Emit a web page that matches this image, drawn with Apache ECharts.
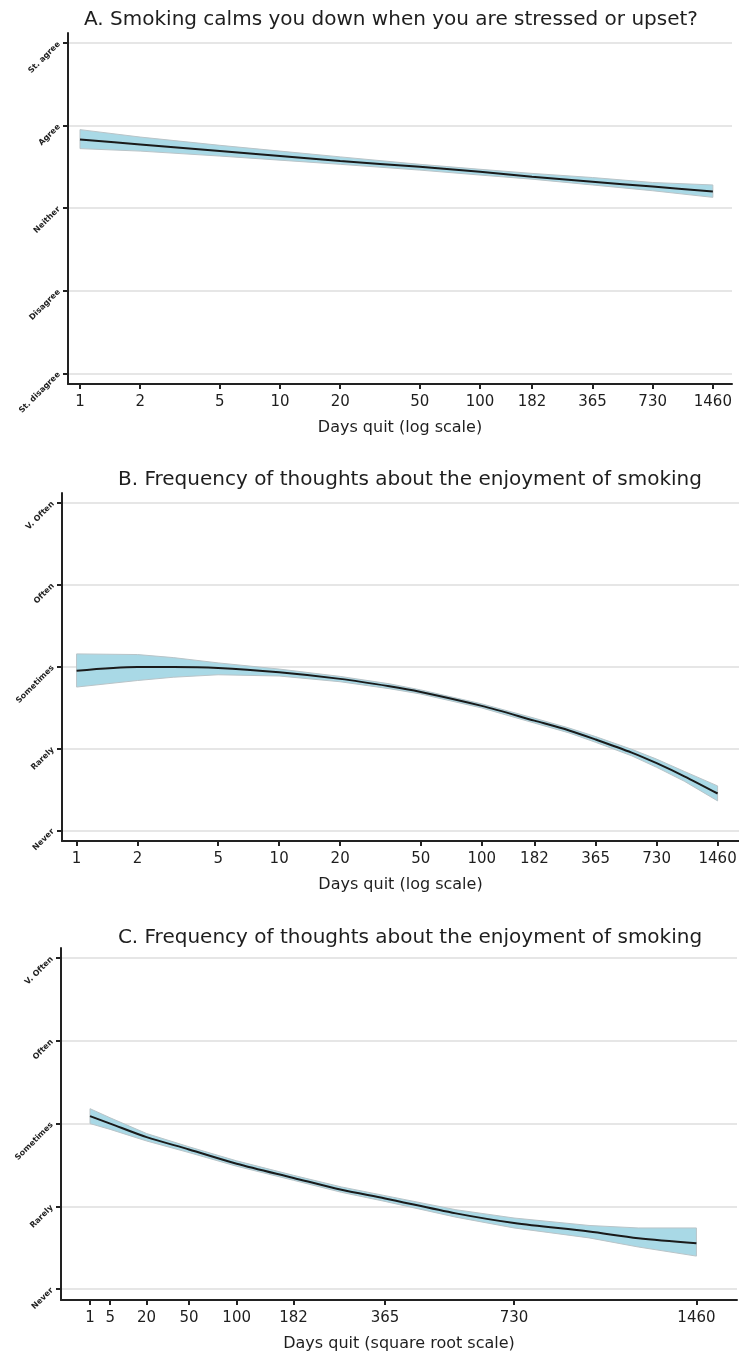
<!DOCTYPE html>
<html><head><meta charset="utf-8">
<script src="https://cdn.jsdelivr.net/npm/echarts@6/dist/echarts.min.js"></script>
<style>html,body{margin:0;padding:0;background:#fff}#c{width:739px;height:1357px}</style>
</head><body><div id="c"></div>
<script>
// ---- text ----
const titleA = "A. Smoking calms you down when you are stressed or upset?";
const titleB = "B. Frequency of thoughts about the enjoyment of smoking";
const titleC = "C. Frequency of thoughts about the enjoyment of smoking";
const xNameLog = "Days quit (log scale)";
const xNameSqrt = "Days quit (square root scale)";
const agreeLabels = ["St. disagree", "Disagree", "Neither", "Agree", "St. agree"];
const freqLabels = ["Never", "Rarely", "Sometimes", "Often", "V. Often"];
const levelValues = [1, 2, 3, 4, 5];
const logTicks = [1, 2, 5, 10, 20, 50, 100, 182, 365, 730, 1460];
const sqrtTicks = [1, 5, 20, 50, 100, 182, 365, 730, 1460];

// ---- panel A ----
const daysA = [1, 2, 5, 10, 20, 50, 100, 182, 365, 730, 1460];
const fitA  = [3.83, 3.77, 3.69, 3.63, 3.57, 3.50, 3.44, 3.38, 3.32, 3.26, 3.20];
const loA   = [3.72, 3.69, 3.63, 3.58, 3.53, 3.46, 3.40, 3.35, 3.28, 3.21, 3.13];
const hiA   = [3.95, 3.86, 3.76, 3.69, 3.62, 3.53, 3.47, 3.42, 3.37, 3.31, 3.28];

// ---- panel B ----
const daysB = [1, 2, 3, 5, 10, 20, 35, 50, 100, 182, 270, 365, 550, 730, 1000, 1460];
const fitB  = [2.95, 2.996, 2.996, 2.984, 2.93, 2.85, 2.76, 2.69, 2.52, 2.34, 2.22, 2.11, 1.95, 1.82, 1.66, 1.45];
const loB   = [2.75, 2.83, 2.87, 2.90, 2.885, 2.815, 2.73, 2.665, 2.495, 2.31, 2.19, 2.075, 1.91, 1.77, 1.60, 1.36];
const hiB   = [3.155, 3.147, 3.11, 3.045, 2.97, 2.88, 2.79, 2.715, 2.545, 2.37, 2.25, 2.145, 1.99, 1.87, 1.72, 1.543];

// ---- panel C ----
const daysC = [1, 5, 20, 50, 100, 182, 270, 365, 550, 730, 1000, 1200, 1460];
const fitC  = [3.09, 3.00, 2.836, 2.688, 2.516, 2.344, 2.20, 2.096, 1.916, 1.80, 1.696, 1.616, 1.556];
const loC   = [3.00, 2.93, 2.79, 2.65, 2.485, 2.315, 2.17, 2.06, 1.87, 1.74, 1.62, 1.51, 1.40];
const hiC   = [3.18, 3.07, 2.88, 2.72, 2.55, 2.375, 2.235, 2.13, 1.96, 1.86, 1.77, 1.74, 1.74];

// ---- styling ----
const FONT = "DejaVu Sans";
const TXT = "#1e1e1e";
const BAND = "#a9d9e6";
const logT = d => Math.log10(d);
const sqrtT = d => Math.sqrt(d);

function yAxis(grid, labels) {
  return {
    type: 'value', gridIndex: grid, min: 0.87, max: 5.12,
    axisLine: { show: true, onZero: false, lineStyle: { color: '#222', width: 2 } },
    axisTick: { show: true, length: 5, customValues: levelValues, lineStyle: { color: '#222', width: 2 } },
    axisLabel: {
      customValues: levelValues, rotate: 45, margin: 9,
      fontFamily: FONT, fontSize: 8, fontWeight: 'bold', color: TXT,
      formatter: v => labels[Math.round(v) - 1]
    },
    splitLine: { show: true, lineStyle: { color: '#e6e6e6', width: 2 } }
  };
}
function xAxis(grid, min, max, ticks, tf, inv, name) {
  const vals = ticks.map(tf);
  return {
    type: 'value', gridIndex: grid, min: min, max: max,
    name: name, nameLocation: 'middle', nameGap: 36,
    nameTextStyle: { fontFamily: FONT, fontSize: 16, color: TXT },
    axisLine: { show: true, onZero: false, lineStyle: { color: '#222', width: 2 } },
    axisTick: { show: true, length: 5, customValues: vals, lineStyle: { color: '#222', width: 2 } },
    axisLabel: {
      customValues: vals, margin: 11, fontFamily: FONT, fontSize: 15, color: TXT,
      formatter: v => String(Math.round(inv(v)))
    },
    splitLine: { show: false }
  };
}
function band(idx, days, lo, hi, tf) {
  return {
    type: 'custom', xAxisIndex: idx, yAxisIndex: idx, data: [[tf(days[0]), lo[0]]], z: 1,
    renderItem: (params, api) => {
      const pts = [];
      for (let i = 0; i < days.length; i++) pts.push(api.coord([tf(days[i]), hi[i]]));
      for (let i = days.length - 1; i >= 0; i--) pts.push(api.coord([tf(days[i]), lo[i]]));
      return { type: 'polygon', shape: { points: pts }, style: { fill: BAND, stroke: '#b9c4c8', lineWidth: 1 } };
    },
    silent: true
  };
}
function fitLine(idx, days, fit, tf) {
  return {
    type: 'line', xAxisIndex: idx, yAxisIndex: idx, z: 3,
    data: days.map((d, i) => [tf(d), fit[i]]),
    smooth: 0.3, showSymbol: false, symbol: 'none',
    lineStyle: { color: '#1a1a1a', width: 2 }, silent: true
  };
}

const titleStyle = { fontFamily: FONT, fontSize: 20, fontWeight: 'normal', color: TXT };
const chart = echarts.init(document.getElementById('c'), null, { renderer: 'canvas' });
chart.setOption({
  animation: false,
  backgroundColor: '#fff',
  title: [
    { text: titleA, left: 386, top: 5, textAlign: 'center', textStyle: titleStyle },
    { text: titleB, left: 405, top: 465, textAlign: 'center', textStyle: titleStyle },
    { text: titleC, left: 405, top: 923, textAlign: 'center', textStyle: titleStyle }
  ],
  grid: [
    { left: 68, top: 33, width: 664, height: 351, outerBoundsMode: 'none' },
    { left: 62, top: 493, width: 677, height: 348, outerBoundsMode: 'none' },
    { left: 61, top: 948, width: 676, height: 352, outerBoundsMode: 'none' }
  ],
  xAxis: [
    xAxis(0, -0.06, 3.26, logTicks, logT, v => Math.pow(10, v), xNameLog),
    xAxis(1, -0.072, 3.27, logTicks, logT, v => Math.pow(10, v), xNameLog),
    xAxis(2, -0.78, 40.7, sqrtTicks, sqrtT, v => v * v, xNameSqrt)
  ],
  yAxis: [yAxis(0, agreeLabels), yAxis(1, freqLabels), yAxis(2, freqLabels)],
  series: [
    band(0, daysA, loA, hiA, logT), fitLine(0, daysA, fitA, logT),
    band(1, daysB, loB, hiB, logT), fitLine(1, daysB, fitB, logT),
    band(2, daysC, loC, hiC, sqrtT), fitLine(2, daysC, fitC, sqrtT)
  ]
});
</script></body></html>
